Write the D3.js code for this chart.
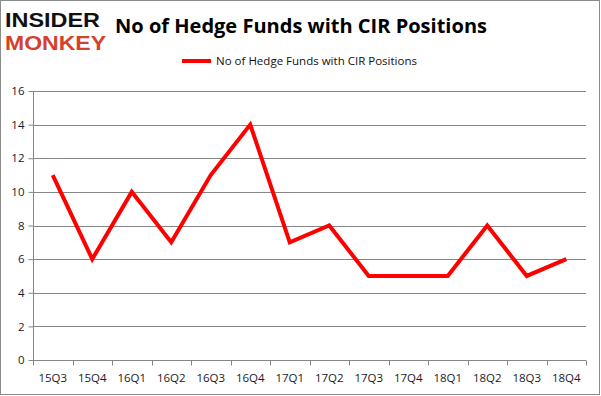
<!DOCTYPE html>
<html><head><meta charset="utf-8">
<script src="https://cdn.jsdelivr.net/npm/d3@7"></script>
<style>body{margin:0;background:#fff}svg{display:block}</style>
</head><body>
<script>
const categories = ["15Q3","15Q4","16Q1","16Q2","16Q3","16Q4","17Q1","17Q2","17Q3","17Q4","18Q1","18Q2","18Q3","18Q4"];
const values = [11,6,10,7,11,14,7,8,5,5,5,8,5,6];
const yTicks = [0,2,4,6,8,10,12,14,16];
const seriesName = "No of Hedge Funds with CIR Positions";
const titleText = "No of Hedge Funds with CIR Positions";

const W = 601, H = 396;
const svg = d3.select("body").append("svg").attr("width", W).attr("height", H);
svg.append("rect").attr("x",0.5).attr("y",0.5).attr("width",W-2).attr("height",H-2)
  .attr("fill","#fff").attr("stroke","#8c8c8c");

const pL = 33, pR = 586, pT = 91, pB = 360;
const x = d3.scaleBand().domain(categories).range([pL,pR]);
const y = d3.scaleLinear().domain([0,16]).range([pB,pT]);

// gridlines
svg.append("g").selectAll("line").data(yTicks.filter(d=>d>0)).join("line")
  .attr("x1",pL).attr("x2",pR).attr("y1",d=>Math.round(y(d))+0.5).attr("y2",d=>Math.round(y(d))+0.5)
  .attr("stroke","#868686").attr("stroke-width",1);

// y axis
const ya = svg.append("g").attr("transform",`translate(${pL+0.5},0)`)
  .call(d3.axisLeft(y).tickValues(yTicks).tickSize(5).tickPadding(4));
ya.select(".domain").attr("stroke","#868686").attr("d",`M0,${pT}V${pB}`);
ya.selectAll(".tick line").attr("stroke","#868686");
ya.selectAll(".tick text").attr("font-family","'Open Sans', sans-serif").attr("font-size",11.5).attr("fill","#1a1a2a");

// x axis
const xa = svg.append("g").attr("transform",`translate(0,${pB+0.5})`)
  .call(d3.axisBottom(x).tickSize(0).tickPadding(13));
xa.select(".domain").attr("stroke","#868686").attr("d",`M${pL},0H${pR}`);
xa.selectAll(".tick line").remove();
const edges = categories.map(c=>x(c)).concat([pR]);
xa.append("g").selectAll("line").data(edges).join("line")
  .attr("x1",d=>Math.round(d)+0.5).attr("x2",d=>Math.round(d)+0.5).attr("y1",0).attr("y2",5)
  .attr("stroke","#868686");
xa.selectAll(".tick text").attr("font-family","'Open Sans', sans-serif").attr("font-size",11.5).attr("fill","#1a1a2a");

// line
const line = d3.line().x((d,i)=>x(categories[i])+x.bandwidth()/2).y(d=>y(d));
svg.append("path").datum(values).attr("d",line).attr("fill","none")
  .attr("stroke","#ff0000").attr("stroke-width",4).attr("stroke-linejoin","miter");

// title
svg.append("text").attr("x",115).attr("y",33).text(titleText)
  .attr("font-family","'Open Sans', sans-serif").attr("font-weight","bold").attr("font-size",20)
  .attr("textLength",372).attr("lengthAdjust","spacingAndGlyphs").attr("fill","#000");

// legend
svg.append("line").attr("x1",182).attr("x2",211).attr("y1",61).attr("y2",61)
  .attr("stroke","#ff0000").attr("stroke-width",4);
svg.append("text").attr("x",216).attr("y",65).text(seriesName)
  .attr("font-family","'Open Sans', sans-serif").attr("font-size",11.5)
  .attr("textLength",201).attr("lengthAdjust","spacingAndGlyphs").attr("fill","#111");

// logo
svg.append("text").attr("x",5).attr("y",27).text("INSIDER")
  .attr("font-family","'Liberation Sans', sans-serif").attr("font-weight","bold").attr("font-size",20.5)
  .attr("textLength",95).attr("lengthAdjust","spacingAndGlyphs").attr("fill","#111");
svg.append("text").attr("x",5).attr("y",50).text("MONKEY")
  .attr("font-family","'Liberation Sans', sans-serif").attr("font-weight","bold").attr("font-size",20.5)
  .attr("textLength",101).attr("lengthAdjust","spacingAndGlyphs").attr("fill","#d4412d");
</script>
</body></html>
